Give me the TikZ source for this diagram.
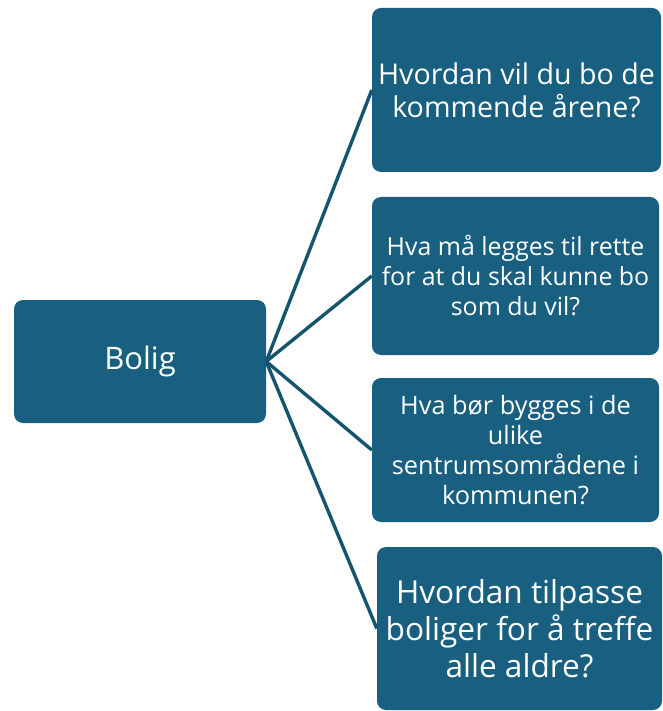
\documentclass[tikz,border=0pt]{standalone}
\usepackage{fontspec}
\setmainfont{Open Sans}
\definecolor{boxblue}{HTML}{185F80}
\definecolor{lineblue}{HTML}{15546F}
\begin{document}
\begin{tikzpicture}[x=1pt,y=-1pt,
  qbox/.style={draw=none,fill=boxblue,rounded corners=9pt,text=white,align=center,inner sep=0pt},
  link/.style={draw=lineblue,line width=3.4pt}]
\useasboundingbox (0,0) rectangle (662,711);
\node[qbox,minimum width=252pt,minimum height=123pt,font=\fontsize{31}{36}\selectfont] (bolig) at (140,361.5) {Bolig};
\node[qbox,minimum width=289pt,minimum height=164pt,font=\fontsize{28.6}{33}\selectfont] (q1) at (516.5,90) {Hvordan vil du bo de\\kommende årene?};
\node[qbox,minimum width=287pt,minimum height=158pt,font=\fontsize{24.9}{30}\selectfont] (q2) at (515.5,276) {Hva må legges til rette\\for at du skal kunne bo\\som du vil?};
\node[qbox,minimum width=287pt,minimum height=144pt,font=\fontsize{25.3}{30}\selectfont] (q3) at (515.5,450) {Hva bør bygges i de\\ulike\\sentrumsområdene i\\kommunen?};
\node[qbox,minimum width=285pt,minimum height=163pt,font=\fontsize{31.6}{37}\selectfont] (q4) at (519.5,628.5) {Hvordan tilpasse\\boliger for å treffe\\alle aldre?};
\draw[link] (bolig.east) -- (q1.west);
\draw[link] (bolig.east) -- (q2.west);
\draw[link] (bolig.east) -- (q3.west);
\draw[link] (bolig.east) -- (q4.west);
\end{tikzpicture}
\end{document}
